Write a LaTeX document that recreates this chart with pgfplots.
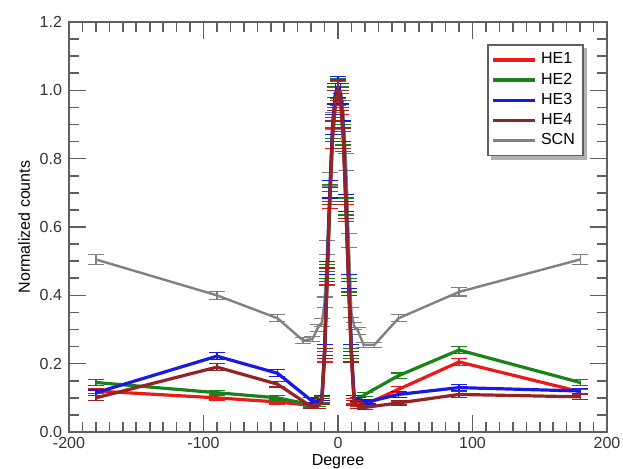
\documentclass[border=0pt]{standalone}
\usepackage{fontspec}
\setmainfont{Liberation Sans}
\usepackage{pgfplots}
\usepackage{pgfplotstable}
\pgfplotsset{compat=1.18}
\usetikzlibrary{calc,backgrounds}

\definecolor{heone}{RGB}{235,25,25}
\definecolor{hetwo}{RGB}{25,130,25}
\definecolor{hethree}{RGB}{25,25,230}
\definecolor{hefour}{RGB}{150,35,35}
\definecolor{scn}{RGB}{128,128,128}
\definecolor{frame}{RGB}{95,95,95}

% x = degree, y = normalized counts, e = error
\pgfplotstableread{
x y e
-180 0.505 0.015
-90 0.400 0.012
-45 0.333 0.010
-26 0.268 0.008
-19 0.272 0.008
-15 0.305 0.010
-12 0.320 0.012
-10 0.380 0.015
-8 0.540 0.020
-6 0.740 0.020
-4 0.910 0.025
-2 0.990 0.030
0 1.000 0.030
2 0.990 0.030
4 0.940 0.030
6 0.790 0.025
8 0.560 0.020
10 0.350 0.015
12 0.310 0.010
15 0.295 0.010
19 0.255 0.008
27 0.255 0.008
45 0.333 0.010
90 0.410 0.012
180 0.505 0.015
}\scndata

\pgfplotstableread{
x y e
-180 0.120 0.008
-90 0.100 0.006
-45 0.088 0.006
-20 0.078 0.006
-15 0.075 0.006
-12 0.090 0.008
-10 0.220 0.015
-8 0.450 0.020
-6 0.680 0.025
-4 0.860 0.030
-2 0.950 0.030
0 0.990 0.035
2 0.960 0.030
4 0.850 0.030
6 0.640 0.025
8 0.420 0.020
10 0.220 0.015
12 0.090 0.008
15 0.080 0.006
20 0.080 0.006
45 0.125 0.008
90 0.205 0.010
180 0.118 0.008
}\heonedata

\pgfplotstableread{
x y e
-180 0.145 0.008
-90 0.115 0.006
-45 0.100 0.006
-20 0.080 0.006
-15 0.080 0.006
-12 0.095 0.008
-10 0.230 0.015
-8 0.470 0.020
-6 0.700 0.025
-4 0.890 0.030
-2 0.980 0.030
0 1.005 0.030
2 0.980 0.030
4 0.870 0.030
6 0.660 0.025
8 0.430 0.020
10 0.230 0.015
12 0.100 0.008
15 0.095 0.006
20 0.110 0.006
45 0.165 0.008
90 0.240 0.010
180 0.145 0.008
}\hetwodata

\pgfplotstableread{
x y e
-180 0.115 0.008
-90 0.222 0.010
-45 0.172 0.010
-20 0.093 0.008
-15 0.090 0.008
-12 0.100 0.008
-10 0.240 0.015
-8 0.480 0.020
-6 0.710 0.025
-4 0.900 0.030
-2 0.990 0.030
0 1.010 0.030
2 0.990 0.030
4 0.880 0.030
6 0.670 0.025
8 0.440 0.020
10 0.240 0.015
12 0.100 0.008
15 0.095 0.006
22 0.088 0.006
45 0.110 0.008
90 0.130 0.008
180 0.120 0.008
}\hethreedata

\pgfplotstableread{
x y e
-180 0.100 0.008
-90 0.190 0.010
-45 0.140 0.008
-20 0.075 0.006
-15 0.075 0.006
-12 0.090 0.008
-10 0.230 0.015
-8 0.460 0.020
-6 0.690 0.025
-4 0.880 0.030
-2 0.970 0.030
0 1.000 0.030
2 0.970 0.030
4 0.860 0.030
6 0.650 0.025
8 0.420 0.020
10 0.220 0.015
12 0.085 0.008
15 0.075 0.006
20 0.072 0.006
45 0.085 0.006
90 0.110 0.008
180 0.103 0.008
}\hefourdata

\begin{document}
\begin{tikzpicture}[font=\fontsize{8}{9.6}\selectfont]
\begin{axis}[
    name=ax,
    scale only axis,
    width=269pt,
    height=205pt,
    xmin=-200, xmax=200,
    ymin=0, ymax=1.2,
    xtick={-200,-100,0,100,200},
    ytick={0,0.2,0.4,0.6,0.8,1.0,1.2},
    minor x tick num=9,
    minor y tick num=3,
    tick align=inside,
    major tick length=8.5pt,
    minor tick length=5pt,
    axis line style={frame, line width=0.8pt},
    tick style={frame, line width=0.8pt},
    /pgf/number format/assume math mode=true,
    yticklabel style={/pgf/number format/.cd, fixed, fixed zerofill, precision=1},
    ticklabel style={text=black!80},
    xticklabel style={yshift=1pt},
    xlabel={Degree},
    ylabel={Normalized counts},
    xlabel style={yshift=4pt},
    ylabel style={yshift=-2pt},
    legend style={name=leg, at={(rel axis cs:0.777,0.946)}, anchor=north west,
        draw=frame, line width=0.8pt, fill=white,
        font=\fontsize{8}{9.6}\selectfont, row sep=-1pt,
        inner xsep=2pt, inner ysep=2pt},
    legend cell align=left,
    legend image code/.code={\draw[#1, mark=none] (0pt,0pt) -- (21pt,0pt);},
    every axis plot/.append style={mark=none},
    error bars/y dir=both,
    error bars/y explicit,
    error bars/error bar style={line width=0.6pt},
    error bars/error mark options={rotate=90, line width=0.6pt, mark size=4pt},
]
\addplot[scn, line width=1.2pt, forget plot] table[x=x, y=y, y error=e] {\scndata};
\addplot[heone, line width=1.6pt] table[x=x, y=y, y error=e] {\heonedata};
\addlegendentry{HE1}
\addplot[hetwo, line width=1.6pt] table[x=x, y=y, y error=e] {\hetwodata};
\addlegendentry{HE2}
\addplot[hethree, line width=1.6pt] table[x=x, y=y, y error=e] {\hethreedata};
\addlegendentry{HE3}
\addplot[hefour, line width=1.6pt] table[x=x, y=y, y error=e] {\hefourdata};
\addlegendentry{HE4}
\addlegendimage{scn, line width=1.2pt}
\addlegendentry{SCN}
\end{axis}
\begin{scope}[on background layer]
\fill[gray!60] ($(leg.south west)+(1.8pt,-1.8pt)$) rectangle ($(leg.north east)+(1.8pt,-1.8pt)$);
\end{scope}
\pgfresetboundingbox
\path ($(ax.south west)+(-34.5pt,-18pt)$) rectangle ($(ax.north east)+(8pt,11pt)$);
\end{tikzpicture}
\end{document}
